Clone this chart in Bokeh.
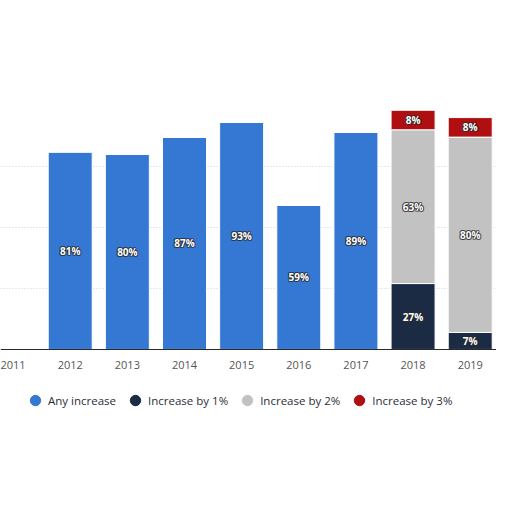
from bokeh.plotting import figure
from bokeh.models import ColumnDataSource, Legend, LegendItem, FixedTicker, Range1d
from bokeh.embed import file_html
from bokeh.resources import INLINE
from bokeh.core.properties import value

years = [2012, 2013, 2014, 2015, 2016, 2017, 2018, 2019]
tick_years = [2011, 2012, 2013, 2014, 2015, 2016, 2017, 2018, 2019]
any_increase = [81, 80, 87, 93, 59, 89, 0, 0]
increase_1 = [0, 0, 0, 0, 0, 0, 27, 7]
increase_2 = [0, 0, 0, 0, 0, 0, 63, 80]
increase_3 = [0, 0, 0, 0, 0, 0, 8, 8]
series_names = ["Any increase", "Increase by 1%", "Increase by 2%", "Increase by 3%"]
colors = ["#3478d4", "#1b2b44", "#c2c2c2", "#b00f12"]

keys = ["a", "b", "c", "d"]
src = ColumnDataSource(dict(x=years, a=any_increase, b=increase_1, c=increase_2, d=increase_3))

p = figure(frame_width=496, frame_height=330, output_backend="svg", toolbar_location=None,
           x_range=Range1d(2010.78, 2019.46), y_range=Range1d(-33.2, 102),
           min_border_left=0, min_border_right=0, min_border_top=100, min_border_bottom=0)
p.outline_line_color = None
p.background_fill_color = "white"
p.border_fill_color = "white"

rs = p.vbar_stack(keys, x="x", width=0.77, source=src, color=colors, line_color="white", line_width=1)

# labels
lx, ly, lt = [], [], []
for i, yr in enumerate(years):
    base = 0
    for vals in (any_increase, increase_1, increase_2, increase_3):
        v = vals[i]
        if v > 0:
            lx.append(yr); ly.append(base + v / 2); lt.append(f"{v}%")
        base += v
for dx, dy in [(-1, 0), (1, 0), (0, -1), (0, 1), (-1, -1), (1, 1), (-1, 1), (1, -1)]:
    p.text(x=lx, y=ly, text=lt, text_color="#2b2b2b", text_alpha=0.55, x_offset=dx, y_offset=dy,
           text_font=value("Open Sans"), text_font_style="bold", text_font_size="10px",
           text_align="center", text_baseline="middle")
p.text(x=lx, y=ly, text=lt, text_color="white",
       text_font=value("Open Sans"), text_font_style="bold", text_font_size="10px",
       text_align="center", text_baseline="middle")

p.yaxis.visible = False
p.xgrid.grid_line_color = None
p.ygrid.ticker = FixedTicker(ticks=[25, 50, 75])
p.ygrid.grid_line_color = "#d0d0d0"
p.ygrid.grid_line_dash = "1 2"

p.xaxis.ticker = FixedTicker(ticks=tick_years)
p.xaxis.fixed_location = 0
p.xaxis.major_tick_line_color = None
p.xaxis.minor_tick_line_color = None
p.xaxis.axis_line_color = "#2a2a2a"
p.xaxis.major_label_text_color = "#555555"
p.xaxis.major_label_text_font = "Open Sans"
p.xaxis.major_label_text_font_size = "11px"
p.xaxis.major_label_standoff = 6

dummies = []
for c in colors:
    dummies.append(p.scatter(x=[1990], y=[-50], marker="circle", size=11, color=c))
legend = Legend(items=[LegendItem(label=n, renderers=[r]) for n, r in zip(series_names, dummies)],
                orientation="horizontal", location=(22, 17), border_line_color=None,
                background_fill_alpha=0, label_text_font="Open Sans", label_text_font_size="11.5px",
                label_text_color="#2a2f38", glyph_width=26, glyph_height=26, label_standoff=-2,
                spacing=6, margin=0, padding=4)
p.add_layout(legend, "center")

open("out.html", "w").write(file_html(p, INLINE))
